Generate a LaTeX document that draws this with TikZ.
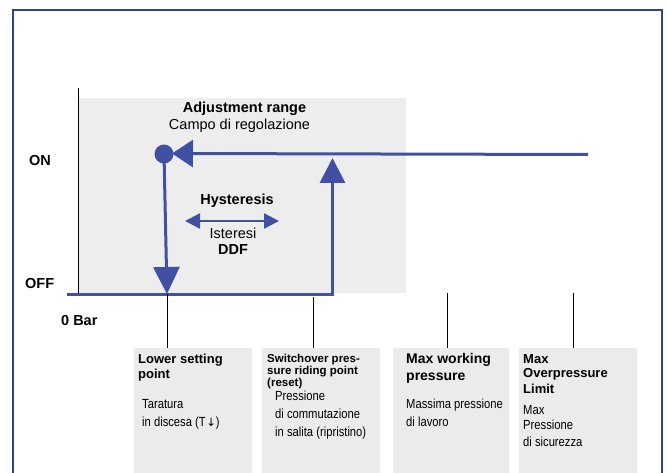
\documentclass[tikz,border=0pt]{standalone}
\usepackage{fontspec}
\setmainfont{Liberation Sans}
\newfontfamily\narrowsans[FakeStretch=0.85]{Liberation Sans}
\usetikzlibrary{arrows.meta}
\definecolor{lineblue}{RGB}{66,80,163}
\definecolor{frameblue}{RGB}{50,64,160}
\definecolor{panelgray}{RGB}{237,237,237}
\definecolor{boxgray}{RGB}{235,235,235}
\begin{document}
\begin{tikzpicture}[x=1pt,y=-1pt,
  lbl/.style={inner sep=0pt, anchor=base west},
  lblc/.style={inner sep=0pt, anchor=base},
  bigb/.style={font=\fontsize{14.5}{16}\selectfont\bfseries},
  big/.style={font=\fontsize{14.5}{16}\selectfont},
  hdr/.style={font=\fontsize{#1}{16}\selectfont\bfseries},
  boxtxt/.style={font=\fontsize{13.2}{16}\selectfont\narrowsans},
  flow/.style={draw=lineblue, line width=3pt},
  tick/.style={draw=black, line width=0.9pt},
  infobox/.style={fill=boxgray, draw=none, inner sep=0pt, anchor=north west, minimum height=140pt}
]
\useasboundingbox (0,0) rectangle (667,473);
\begin{scope}
\clip (0,0) rectangle (667,473);
% frame
\draw[frameblue, line width=1.3pt] (13,490) -- (13,10) -- (662,10) -- (662,490);
% adjustment panel
\fill[panelgray] (79,98) rectangle (406,293);
\draw[black, line width=0.9pt] (78,88) -- (78,293);
% info boxes
\node[infobox, minimum width=118pt] (box1) at (134,348) {};
\node[infobox, minimum width=118pt] (box2) at (262,348) {};
\node[infobox, minimum width=116pt] (box3) at (393,348) {};
\node[infobox, minimum width=118pt] (box4) at (519,348) {};
\end{scope}
% axis labels
\node[lbl, bigb] (on) at (29,166) {ON};
\node[lbl, bigb] (off) at (25,289) {OFF};
\node[lbl, bigb] (zero) at (61,325) {0 Bar};
% panel titles
\node[lblc, bigb] (adj) at (244.5,113) {Adjustment range};
\node[lblc, big] (campo) at (239.5,130) {Campo di regolazione};
\node[lblc, bigb] (hyst) at (237,205) {Hysteresis};
\node[lblc, big] (ister) at (233,239) {Isteresi};
\node[lblc, bigb] (ddf) at (233,255) {DDF};
% switching curve
\node[circle, fill=lineblue, minimum size=19pt, inner sep=0pt] (dot) at (164,154) {};
\coordinate (onend) at (588,154.5);
\coordinate (ontip) at (172,153.5);
\draw[flow, -{Triangle[length=21pt,width=27pt]}] (onend) -- (ontip);
\coordinate (downtip) at (167,294);
\draw[flow, -{Triangle[length=27pt,width=26pt]}] (dot.center) -- (downtip);
\coordinate (offstart) at (67,294.5);
\coordinate (offcorner) at (332.5,294.5);
\coordinate (uptip) at (332.5,158);
\draw[flow, line join=miter, -{Triangle[length=25pt,width=25pt]}] (offstart) -- (offcorner) -- (uptip);
\coordinate (hl) at (185,221);
\coordinate (hr) at (279,221);
\draw[flow, line width=2.5pt, {Triangle[length=15pt,width=15pt]}-{Triangle[length=15pt,width=15pt]}] (hl) -- (hr);
% ticks
\coordinate (t1) at (167,294);
\coordinate (t2) at (313.5,297);
\coordinate (t3) at (447,293);
\coordinate (t4) at (573,293);
\draw[tick] (t1) -- (t1 |- box1.north);
\draw[tick] (t2) -- (t2 |- box2.north);
\draw[tick] (t3) -- (t3 |- box3.north);
\draw[tick] (t4) -- (t4 |- box4.north);
% box 1
\node[lbl, hdr=13] (b1a) at (138,363) {Lower setting};
\node[lbl, hdr=13] (b1b) at (138,378) {point};
\node[lbl, boxtxt] (b1c) at (142,408) {Taratura};
\node[lbl, boxtxt] (b1d) at (142,426) {in discesa (T\kern0.5pt{\fontspec{DejaVu Sans}\fontsize{11.5}{14}\selectfont ↓})};
% box 2
\node[lbl, hdr=11.5] (b2a) at (267,362) {Switchover pres-};
\node[lbl, hdr=11.5] (b2b) at (267,374) {sure riding point};
\node[lbl, hdr=11.5] (b2c) at (267,386) {(reset)};
\node[lbl, boxtxt] (b2d) at (275,400) {Pressione};
\node[lbl, boxtxt] (b2e) at (275,418) {di commutazione};
\node[lbl, boxtxt] (b2f) at (275,436) {in salita (ripristino)};
% box 3
\node[lbl, hdr=14] (b3a) at (406,363) {Max working};
\node[lbl, hdr=14] (b3b) at (406,380) {pressure};
\node[lbl, boxtxt] (b3c) at (406,408) {Massima pressione};
\node[lbl, boxtxt] (b3d) at (406,426) {di lavoro};
% box 4
\node[lbl, hdr=13] (b4a) at (523,363) {Max};
\node[lbl, hdr=13] (b4b) at (523,377) {Overpressure};
\node[lbl, hdr=13] (b4c) at (523,393) {Limit};
\node[lbl, boxtxt] (b4d) at (523,414) {Max};
\node[lbl, boxtxt] (b4e) at (523,429) {Pressione};
\node[lbl, boxtxt] (b4f) at (523,446) {di sicurezza};
\end{tikzpicture}
\end{document}
